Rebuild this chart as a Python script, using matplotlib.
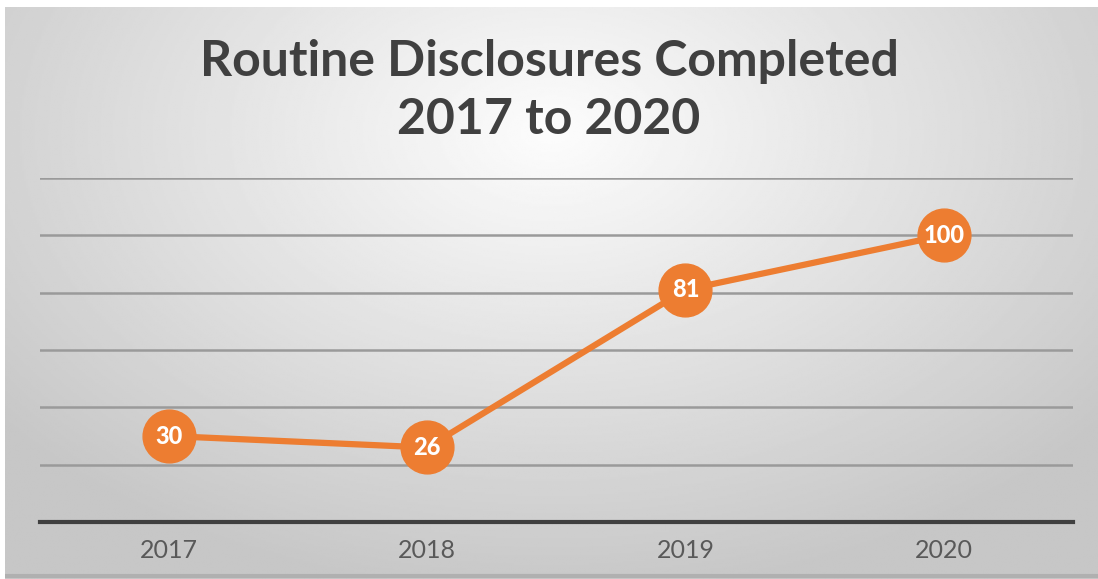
import numpy as np
import matplotlib.pyplot as plt

years = ["2017", "2018", "2019", "2020"]
completed = [30, 26, 81, 100]

orange = "#ED7D31"

plt.rcParams.update({"font.family": ["Lato", "DejaVu Sans"]})

fig = plt.figure(figsize=(10.98, 5.79), dpi=100)
fig.patch.set_facecolor("white")

# radial grey background, lightest near the top centre
bg = fig.add_axes([0.005, 0.0, 0.995, 0.988])
bg.set_axis_off()
yy, xx = np.mgrid[0:1:300j, 0:1:600j]
r = np.sqrt(((xx - 0.5) / 0.8)**2 + ((yy - 0.22) / 1.0)**2)
shade = np.clip(0.99 - 0.26 * r, 0.78, 1.0)
bg.imshow(shade, cmap="gray", vmin=0, vmax=1, aspect="auto", extent=[0, 1, 1, 0])
bg.axhline(0.995, color="#b0b0b0", lw=3)

ax = fig.add_axes([0.0364, 0.0984, 0.9406, 0.5942])
ax.set_facecolor("none")
x = np.arange(len(years))
ax.set_xlim(-0.5, 3.5)
ax.set_ylim(0, 120)
ax.set_yticks([20, 40, 60, 80, 100, 120])
ax.grid(axis="y", color="#9a9a9a", lw=1.8)
ax.set_axisbelow(True)
for s in ["top", "right", "left"]:
    ax.spines[s].set_visible(False)
ax.spines["bottom"].set_color("#404040")
ax.spines["bottom"].set_linewidth(3)
ax.tick_params(axis="y", left=False, labelleft=False)
ax.tick_params(axis="x", length=0, pad=12, labelsize=18, labelcolor="#595959")
ax.set_xticks(x)
ax.set_xticklabels(years)

ax.plot(x, completed, color=orange, lw=4.5, marker="o", ms=38, mfc=orange, mec=orange, zorder=3)
for xi, v in zip(x, completed):
    ax.text(xi, v, str(v), color="white", fontsize=17, fontweight="black",
            ha="center", va="center", zorder=4)

fig.text(0.5, 0.893, "Routine Disclosures Completed", ha="center", va="center",
         fontsize=36, fontweight="bold", color="#404040")
fig.text(0.5, 0.793, "2017 to 2020", ha="center", va="center",
         fontsize=36, fontweight="bold", color="#404040")

fig.savefig("out.png", dpi=100)
